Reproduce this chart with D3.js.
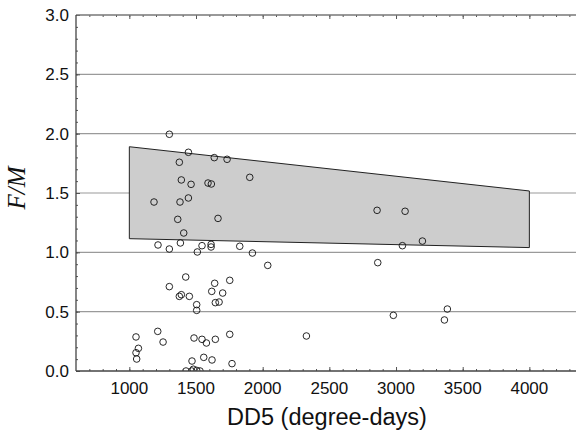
<!DOCTYPE html>
<html>
<head>
<meta charset="utf-8">
<script src="https://cdn.jsdelivr.net/npm/d3@7"></script>
<style>
  body { margin: 0; background: #fff; }
  svg { display: block; }
  .tick-label { font-family: "Liberation Sans", Arial, sans-serif; font-size: 17px; fill: #111; }
</style>
</head>
<body>
<svg id="chart" width="576" height="431"></svg>
<script>
// DD5 (degree-days) of each site
const DD5 = [
  1300, 1443, 1637, 1733, 1375, 1390, 1463, 1590, 1615, 1903,
  1185, 1380, 1443, 1363, 1665, 1408, 1215, 1300, 1383, 1510,
  1545, 1613, 1613, 1828, 1923, 2038, 1423, 1300, 1640, 1753,
  1618, 1700, 1375, 1390, 1450, 1645, 1673, 1505, 1505, 1050,
  1213, 1253, 1068, 1050, 1055, 1485, 1545, 1578, 1645, 1753,
  1470, 1558, 1620, 1770, 1425, 1468, 1480, 1505, 1530,
  2858, 3068, 3198, 3048, 2863, 2980, 3385, 3363, 2328
];
// F/M ratio of each site
const FM = [
  1.995, 1.843, 1.798, 1.784, 1.759, 1.610, 1.573, 1.584, 1.576, 1.632,
  1.424, 1.424, 1.458, 1.278, 1.286, 1.163, 1.062, 1.028, 1.079, 1.003,
  1.056, 1.067, 1.045, 1.051, 0.994, 0.890, 0.792, 0.711, 0.739, 0.764,
  0.671, 0.657, 0.629, 0.643, 0.629, 0.576, 0.581, 0.559, 0.511, 0.287,
  0.334, 0.244, 0.191, 0.154, 0.101, 0.278, 0.267, 0.236, 0.267, 0.309,
  0.084, 0.115, 0.093, 0.062, 0.000, 0.000, 0.015, 0.005, 0.000,
  1.354, 1.346, 1.095, 1.056, 0.913, 0.469, 0.522, 0.430, 0.295
];
// shaded band: corners (DD5, F/M)
const bandDD5 = [1000, 4000, 4000, 1000];
const bandFM = [1.89, 1.517, 1.04, 1.115];

const xTicks = [1000, 1500, 2000, 2500, 3000, 3500, 4000];
const yTicks = [0.0, 0.5, 1.0, 1.5, 2.0, 2.5, 3.0];

const svg = d3.select("#chart");

const x = d3.scaleLinear().domain([600, 4400]).range([76, 582.7]);
const y = d3.scaleLinear().domain([0, 3]).range([371, 15]);

const plotLeft = x(600), plotRight = 576, plotTop = y(3), plotBottom = y(0);

svg.append("defs").append("clipPath").attr("id", "plot")
  .append("rect")
  .attr("x", plotLeft).attr("y", plotTop)
  .attr("width", plotRight - plotLeft).attr("height", plotBottom - plotTop);

// horizontal grid
svg.append("g")
  .selectAll("line")
  .data(yTicks.filter((d) => d > 0 && d < 3))
  .enter()
  .append("line")
  .attr("x1", plotLeft).attr("x2", plotRight)
  .attr("y1", (d) => y(d)).attr("y2", (d) => y(d))
  .attr("stroke", "#9a9a9a")
  .attr("stroke-width", 1.2);

// band
svg.append("polygon")
  .attr("points", bandDD5.map((d, i) => [x(d), y(bandFM[i])].join(",")).join(" "))
  .attr("fill", "#cdcdcd")
  .attr("stroke", "#222")
  .attr("stroke-width", 1);

// points
svg.append("g")
  .attr("clip-path", "url(#plot)")
  .selectAll("circle")
  .data(DD5.map((d, i) => ({ dd: d, fm: FM[i] })))
  .enter()
  .append("circle")
  .attr("cx", (d) => x(d.dd))
  .attr("cy", (d) => y(d.fm))
  .attr("r", 3.3)
  .attr("fill", "none")
  .attr("stroke", "#111")
  .attr("stroke-width", 0.9);

// axes, ticks pointing inward
const xMinor = d3.range(700, 4400, 100);
const yMinor = d3.range(0.1, 3, 0.1);

const axisColor = "#555";

svg.append("g").attr("transform", `translate(0,${plotBottom})`)
  .call(d3.axisTop(x).tickValues(xMinor).tickSize(2).tickFormat(""));
svg.append("g").attr("transform", `translate(0,${plotBottom})`)
  .call(d3.axisTop(x).tickValues(xTicks).tickSize(4).tickFormat(""));
svg.append("g").attr("transform", `translate(0,${plotTop})`)
  .call(d3.axisBottom(x).tickValues(xMinor).tickSize(2).tickFormat(""));
svg.append("g").attr("transform", `translate(0,${plotTop})`)
  .call(d3.axisBottom(x).tickValues(xTicks).tickSize(4).tickFormat(""));
svg.append("g").attr("transform", `translate(${plotLeft},0)`)
  .call(d3.axisRight(y).tickValues(yMinor).tickSize(2).tickFormat(""));
svg.append("g").attr("transform", `translate(${plotLeft},0)`)
  .call(d3.axisRight(y).tickValues(yTicks).tickSize(4).tickFormat(""));

svg.selectAll(".domain").remove();
svg.selectAll(".tick line").attr("stroke", axisColor);

// frame lines
svg.append("line").attr("x1", plotLeft).attr("x2", plotRight).attr("y1", plotTop).attr("y2", plotTop)
  .attr("stroke", "#777").attr("stroke-width", 1.5);
svg.append("line").attr("x1", plotLeft).attr("x2", plotRight).attr("y1", plotBottom).attr("y2", plotBottom)
  .attr("stroke", "#444").attr("stroke-width", 1.3);
svg.append("line").attr("x1", plotLeft).attr("x2", plotLeft).attr("y1", plotTop).attr("y2", plotBottom)
  .attr("stroke", "#444").attr("stroke-width", 1.3);

// tick labels
svg.append("g")
  .selectAll("text")
  .data(xTicks)
  .enter()
  .append("text")
  .classed("tick-label", true)
  .attr("x", (d) => x(d))
  .attr("y", 393.5)
  .attr("text-anchor", "middle")
  .text((d) => d);

svg.append("g")
  .selectAll("text")
  .data(yTicks)
  .enter()
  .append("text")
  .classed("tick-label", true)
  .attr("x", 69)
  .attr("y", (d) => y(d) + 6)
  .attr("text-anchor", "end")
  .text((d) => d.toFixed(1));

// axis titles
svg.append("text")
  .attr("x", 327)
  .attr("y", 425)
  .attr("text-anchor", "middle")
  .style("font-family", "Liberation Sans, Arial, sans-serif")
  .style("font-size", "23.5px")
  .style("fill", "#111")
  .text("DD5 (degree-days)");

svg.append("text")
  .attr("transform", "translate(25,188) rotate(-90)")
  .attr("text-anchor", "middle")
  .style("font-family", "Liberation Serif, Times New Roman, serif")
  .style("font-style", "italic")
  .style("font-size", "25px")
  .style("fill", "#111")
  .text("F/M");
</script>
</body>
</html>
